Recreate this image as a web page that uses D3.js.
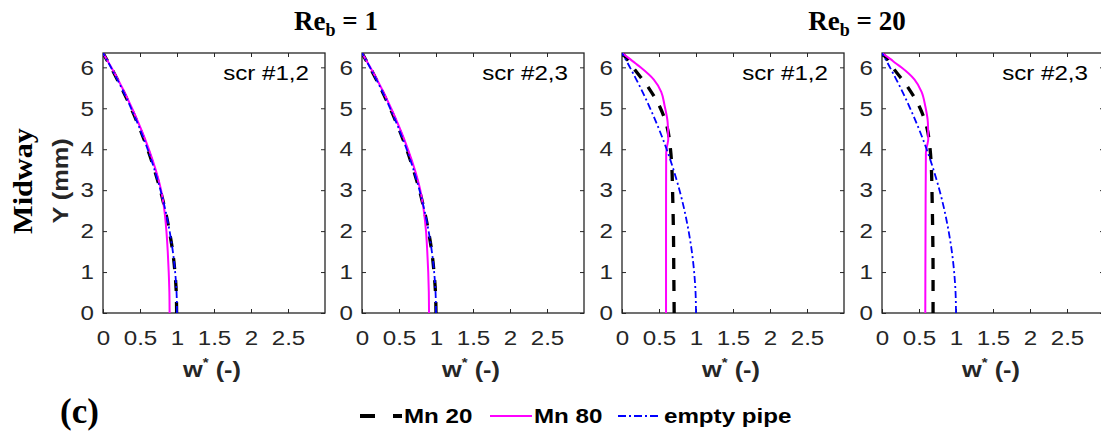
<!DOCTYPE html>
<html>
<head>
<meta charset="utf-8">
<script src="https://cdn.jsdelivr.net/npm/d3@7"></script>
<style>
  body { margin: 0; background: #fff; }
  svg { display: block; }
</style>
</head>
<body>
<div id="chart"></div>
<script>
var svgWidth = 1101;
var svgHeight = 432;

// profile data (y in mm, w* dimensionless)
var yTicks = [0, 1, 2, 3, 4, 5, 6];
var xTicks = [0, 0.5, 1, 1.5, 2, 2.5];

var yEmpty = [0, 0.5, 1, 1.5, 2, 2.5, 3, 3.5, 4, 4.5, 5, 5.5, 5.75, 6, 6.2, 6.35];
var wEmpty = [1.0, 0.994, 0.975, 0.944, 0.90, 0.845, 0.777, 0.696, 0.603, 0.498, 0.38, 0.25, 0.18, 0.107, 0.047, 0];

var yRe1 = [0, 0.5, 1, 1.5, 2, 2.5, 3, 3.5, 4, 4.5, 5, 5.5, 6, 6.35];
var wMn20_scr12_re1 = [0.995, 0.99, 0.972, 0.942, 0.897, 0.842, 0.775, 0.695, 0.603, 0.498, 0.38, 0.25, 0.107, 0];
var wMn80_scr12_re1 = [0.9, 0.897, 0.888, 0.875, 0.857, 0.83, 0.785, 0.712, 0.62, 0.512, 0.392, 0.26, 0.112, 0];
var wMn20_scr23_re1 = [1.0, 0.993, 0.973, 0.943, 0.898, 0.843, 0.776, 0.695, 0.603, 0.498, 0.38, 0.25, 0.107, 0];
var wMn80_scr23_re1 = [0.906, 0.903, 0.895, 0.882, 0.865, 0.835, 0.788, 0.714, 0.621, 0.513, 0.393, 0.26, 0.112, 0];

var yRe20Mn80 = [0, 2, 3.9, 4.05, 4.25, 4.65, 5.05, 5.4, 5.7, 6.0, 6.1, 6.2, 6.35];
var wMn80_scr12_re20 = [0.595, 0.595, 0.597, 0.607, 0.625, 0.617, 0.577, 0.53, 0.43, 0.25, 0.18, 0.11, 0];
var wMn80_scr23_re20 = [0.585, 0.588, 0.593, 0.605, 0.625, 0.62, 0.585, 0.535, 0.44, 0.26, 0.185, 0.115, 0];

var yRe20Mn20 = [0, 1, 2, 3, 3.5, 4, 4.5, 5, 5.5, 6, 6.2, 6.35];
var wMn20_scr12_re20 = [0.705, 0.70, 0.695, 0.683, 0.675, 0.655, 0.615, 0.52, 0.36, 0.15, 0.07, 0];
var wMn20_scr23_re20 = [0.69, 0.69, 0.685, 0.675, 0.668, 0.65, 0.61, 0.515, 0.355, 0.145, 0.07, 0];

var panelLabels = ["scr #1,2", "scr #2,3", "scr #1,2", "scr #2,3"];
var seriesNames = ["Mn 20", "Mn 80", "empty pipe"];

var panels = [
  {mn20: [yRe1, wMn20_scr12_re1], mn80: [yRe1, wMn80_scr12_re1]},
  {mn20: [yRe1, wMn20_scr23_re1], mn80: [yRe1, wMn80_scr23_re1]},
  {mn20: [yRe20Mn20, wMn20_scr12_re20], mn80: [yRe20Mn80, wMn80_scr12_re20]},
  {mn20: [yRe20Mn20, wMn20_scr23_re20], mn80: [yRe20Mn80, wMn80_scr23_re20]}
];

var panelLeft = [103, 362, 622, 882];
var panelTop = 53;
var width = 222;
var height = 260;

var sans = "'Liberation Sans', Arial, Helvetica, sans-serif";
var serif = "'Liberation Serif', 'Times New Roman', serif";
var axisColor = "#262626";
var stretch = 1.15;

var styles = {
  mn20: {stroke: "#000", width: 3.3, dash: "11,11"},
  mn80: {stroke: "#ff00ff", width: 2, dash: null},
  empty: {stroke: "#0000ff", width: 1.8, dash: "7,3,2,3"}
};

var svg = d3.select("#chart")
  .append("svg")
  .attr("width", svgWidth)
  .attr("height", svgHeight);

var xScale = d3.scaleLinear().domain([0, 3]).range([0, width]);
var yScale = d3.scaleLinear().domain([0, 6.35]).range([height, 0]);

var line = d3.line()
  .x(d => xScale(d[1]))
  .y(d => yScale(d[0]))
  .curve(d3.curveMonotoneY);

function zipProfile(ys, ws) {
  return ys.map((y, i) => [y, ws[i]]);
}

function styleTicks(g) {
  g.selectAll(".domain").remove();
  g.selectAll("line").attr("stroke", axisColor).attr("stroke-width", 1);
  g.selectAll("text")
    .attr("fill", axisColor)
    .style("font-family", sans)
    .style("font-size", "21px");
}

panels.forEach(function(p, i) {
  var g = svg.append("g")
    .attr("transform", `translate(${panelLeft[i]},${panelTop})`);

  var clip = "clip" + i;
  g.append("clipPath").attr("id", clip)
    .append("rect").attr("width", width).attr("height", height);

  // axes: ticks inward on all four sides
  var bottom = g.append("g")
    .attr("transform", `translate(0,${height})`)
    .call(d3.axisBottom(xScale).tickValues(xTicks).tickFormat(d3.format("")).tickSizeInner(-4).tickSizeOuter(0).tickPadding(17));
  styleTicks(bottom);
  bottom.selectAll("text").attr("transform", `scale(${stretch},1)`);

  var left = g.append("g")
    .call(d3.axisLeft(yScale).tickValues(yTicks).tickFormat(d3.format("d")).tickSizeInner(-4).tickSizeOuter(0).tickPadding(8));
  styleTicks(left);
  left.selectAll("text").attr("transform", `scale(${stretch},1)`);

  var top = g.append("g")
    .call(d3.axisTop(xScale).tickValues(xTicks).tickFormat("").tickSizeInner(-4).tickSizeOuter(0));
  styleTicks(top);

  var right = g.append("g")
    .attr("transform", `translate(${width},0)`)
    .call(d3.axisRight(yScale).tickValues(yTicks).tickFormat("").tickSizeInner(-4).tickSizeOuter(0));
  styleTicks(right);

  g.append("rect")
    .attr("width", width)
    .attr("height", height)
    .attr("fill", "none")
    .attr("stroke", axisColor)
    .attr("stroke-width", 1.3);

  // profiles
  var curves = [
    {key: "mn20", data: zipProfile(p.mn20[0], p.mn20[1])},
    {key: "mn80", data: zipProfile(p.mn80[0], p.mn80[1])},
    {key: "empty", data: zipProfile(yEmpty, wEmpty)}
  ];
  curves.forEach(function(c) {
    var s = styles[c.key];
    g.append("path")
      .datum(c.data)
      .attr("clip-path", `url(#${clip})`)
      .attr("d", line)
      .attr("fill", "none")
      .attr("stroke", s.stroke)
      .attr("stroke-width", s.width)
      .attr("stroke-dasharray", s.dash);
  });

  // panel tag
  g.append("text")
    .attr("transform", `translate(${width - 16},27) scale(${stretch},1)`)
    .attr("text-anchor", "end")
    .style("font-family", sans)
    .style("font-size", "21px")
    .attr("fill", "#000")
    .text(panelLabels[i]);

  // x label w* (-)
  var xl = g.append("text")
    .attr("transform", `translate(${width / 2 - 2},${height + 64}) scale(${stretch},1)`)
    .attr("text-anchor", "middle")
    .style("font-family", sans)
    .style("font-weight", "bold")
    .style("font-size", "22px")
    .attr("fill", axisColor);
  xl.append("tspan").text("w");
  xl.append("tspan").attr("dy", -10).style("font-size", "13px").text("*");
  xl.append("tspan").attr("dy", 10).text(" (-)");
});

// column titles
function title(x, num) {
  var t = svg.append("text")
    .attr("x", x)
    .attr("y", 30)
    .attr("text-anchor", "middle")
    .style("font-family", serif)
    .style("font-weight", "bold")
    .style("font-size", "27px")
    .attr("fill", "#000");
  t.append("tspan").text("Re");
  t.append("tspan").attr("dy", 6).style("font-size", "18px").text("b");
  t.append("tspan").attr("dy", -6).text(" = " + num);
}
title(336, "1");
title(857, "20");

// y label
svg.append("text")
  .attr("transform", "translate(32,181) rotate(-90) scale(1.12,1)")
  .attr("text-anchor", "middle")
  .style("font-family", serif)
  .style("font-weight", "bold")
  .style("font-size", "27px")
  .attr("fill", "#000")
  .text("Midway");

svg.append("text")
  .attr("transform", `translate(68,181) rotate(-90) scale(${stretch},1)`)
  .attr("text-anchor", "middle")
  .style("font-family", sans)
  .style("font-weight", "bold")
  .style("font-size", "22px")
  .attr("fill", axisColor)
  .text("Y (mm)");

// panel letter
svg.append("text")
  .attr("x", 60)
  .attr("y", 423)
  .style("font-family", serif)
  .style("font-weight", "bold")
  .style("font-size", "35px")
  .attr("fill", "#000")
  .text("(c)");

// legend
var legendItems = [
  {key: "mn20", x: 360, textX: 404},
  {key: "mn80", x: 490, textX: 534},
  {key: "empty", x: 618, textX: 664}
];
var legend = svg.append("g");
legendItems.forEach(function(item, i) {
  var s = styles[item.key];
  legend.append("line")
    .attr("x1", item.x)
    .attr("x2", item.x + 42)
    .attr("y1", 416)
    .attr("y2", 416)
    .attr("stroke", s.stroke)
    .attr("stroke-width", item.key === "mn20" ? 4 : s.width)
    .attr("stroke-dasharray", item.key === "mn20" ? "15,18" : (item.key === "empty" ? "8,3,2,3" : null));
  legend.append("text")
    .attr("transform", `translate(${item.textX},423) scale(${stretch},1)`)
    .style("font-family", sans)
    .style("font-weight", "bold")
    .style("font-size", "21px")
    .attr("fill", "#000")
    .text(seriesNames[i]);
});
</script>
</body>
</html>
